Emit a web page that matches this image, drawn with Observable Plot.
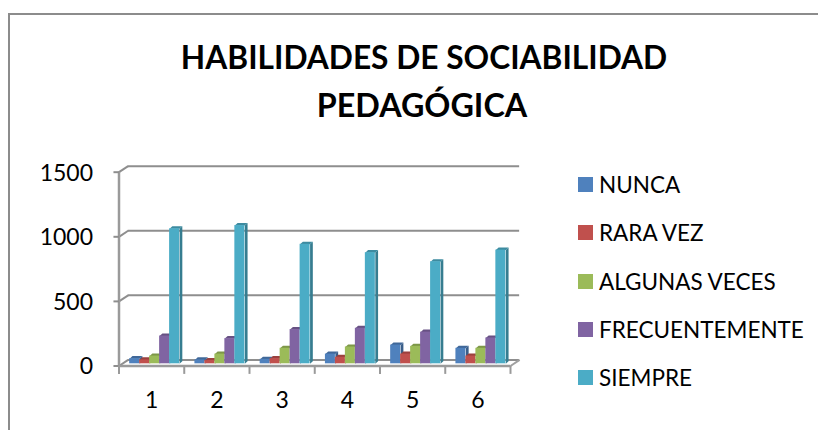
<!DOCTYPE html>
<html><head><meta charset="utf-8">
<script src="https://cdn.jsdelivr.net/npm/d3@7"></script>
<script src="https://cdn.jsdelivr.net/npm/@observablehq/plot@0.6"></script>
<style>
html,body{margin:0;padding:0;background:#fff;overflow:hidden}
#page{position:relative;width:818px;height:430px;overflow:hidden;font-family:Lato,sans-serif;color:#000}
#frame{position:absolute;left:8px;top:13px;width:900px;height:500px;border:2px solid #8c8c8c;box-sizing:border-box}
#title{position:absolute;left:0;top:34px;width:848px;text-align:center;font-weight:700;font-size:31.7px;line-height:47px;color:#000}
#title span{position:relative;left:-2px;font-size:32.3px}
#chart{position:absolute;left:0;top:0}
#legend{position:absolute;left:578px;top:0}
.item{position:absolute;left:0;white-space:nowrap;font-size:22.5px;line-height:26px;height:26px}
.sw{position:absolute;left:0;top:5px;width:15px;height:15px}
.lb{position:absolute;left:21px;top:0;color:#000}
</style></head>
<body><div id="page"><div id="frame"></div>
<div id="title">HABILIDADES DE SOCIABILIDAD<br><span>PEDAGÓGICA</span></div>
<div id="chart"></div><div id="legend"></div></div>
<script>
const groups = [1, 2, 3, 4, 5, 6];
const seriesNames = ["NUNCA", "RARA VEZ", "ALGUNAS VECES", "FRECUENTEMENTE", "SIEMPRE"];
const seriesColors = ["#4F81BD", "#C0504D", "#9BBB59", "#8064A2", "#4BACC6"];
const nunca = [40, 30, 35, 75, 145, 120];
const raraVez = [30, 25, 40, 50, 75, 60];
const algunasVeces = [60, 75, 120, 130, 135, 120];
const frecuentemente = [215, 195, 265, 275, 245, 200];
const siempre = [1045, 1070, 925, 860, 790, 880];
const yTicks = [0, 500, 1000, 1500];
const legendTops = [172, 220, 269, 317, 365];

const all = [nunca, raraVez, algunasVeces, frecuentemente, siempre];
const barW = 0.153, gap = 0.1175;
const bars = [];
groups.forEach((g, gi) => seriesNames.forEach((s, si) => {
  const x1 = g - 0.5 + gap + si * barW;
  bars.push({g, si, s, v: all[si][gi], x1, x2: x1 + barW, color: seriesColors[si]});
}));
const dX = 0.042, dY = 20;           // bar depth in data units
const wX = 0.14, wY = 47;            // wall depth in data units
const sideFaces = bars.flatMap(b => [[b.x2,0],[b.x2+dX,dY],[b.x2+dX,b.v+dY],[b.x2,b.v]]
  .map(([x,y]) => ({x, y, key:`${b.g}-${b.si}`, color:d3.color(b.color).darker(0.9).formatHex()})));
const topFaces = bars.flatMap(b => [[b.x1,b.v],[b.x1+dX,b.v+dY],[b.x2+dX,b.v+dY],[b.x2,b.v]]
  .map(([x,y]) => ({x, y, key:`${b.g}-${b.si}`, color:d3.color(b.color).darker(0.6).formatHex()})));
const grid = "#8e8e8e";
const boundaries = [0, ...groups].map(g => g + 0.5);

const plot = Plot.plot({
  width: 818, height: 430,
  marginLeft: 0, marginRight: 0, marginTop: 0, marginBottom: 0,
  style: {background: "transparent", fontFamily: "Lato,sans-serif"},
  x: {type: "linear", domain: [0.5, 6.5], range: [118.5, 510], axis: null},
  y: {type: "linear", domain: [0, 1500], range: [365.5, 171.7], axis: null},
  color: {type: "identity"},
  marks: [
    Plot.ruleY(yTicks, {x1: 0.5 + wX, x2: 6.5 + wX, y: d => d + wY, stroke: grid, strokeWidth: 2}),
    Plot.link(yTicks, {x1: 0.5, x2: 0.5 + wX, y1: d => d, y2: d => d + wY, stroke: grid, strokeWidth: 2}),
    Plot.ruleX([0.5], {y1: 0, y2: 1500, stroke: "#9a9a9a", strokeWidth: 2.5}),
    Plot.link([6.5], {x1: d => d, x2: d => d + wX, y1: 0, y2: wY, stroke: "#a0a0a0", strokeWidth: 2}),
    Plot.ruleY([0], {x1: 0.5, x2: 6.5, stroke: "#9a9a9a", strokeWidth: 2.5}),
    Plot.link(yTicks, {x1: 0.5 - 0.085, x2: 0.5, y1: d => d, y2: d => d, stroke: "#8e8e8e", strokeWidth: 2}),
    Plot.ruleX(boundaries, {y1: 0, y2: -65, stroke: "#9a9a9a", strokeWidth: 2}),
    Plot.line(sideFaces, {x: "x", y: "y", z: "key", fill: "color", stroke: "none", dx: 3, dy: -2.2}),
    Plot.line(topFaces, {x: "x", y: "y", z: "key", fill: "color", stroke: "none", dx: 3, dy: -2.2}),
    Plot.rect(bars, {x1: "x1", x2: "x2", y1: 0, y2: "v", fill: "color", dx: 3, dy: -2.2}),
    Plot.text(yTicks, {x: 0.5, y: d => d, text: d => String(d), textAnchor: "end", dx: -26, dy: 1, fontSize: 23, fill: "#000"}),
    Plot.text(groups, {x: d => d, y: -270, text: d => String(d), fontSize: 23, fill: "#000"})
  ]
});
document.getElementById("chart").append(plot);

const legend = document.getElementById("legend");
seriesNames.forEach((s, i) => {
  const it = document.createElement("div");
  it.className = "item";
  it.style.top = legendTops[i] + "px";
  const sw = document.createElement("span"); sw.className = "sw"; sw.style.background = seriesColors[i];
  const lb = document.createElement("span"); lb.className = "lb"; lb.textContent = s;
  it.append(sw, lb); legend.append(it);
});
</script></body></html>
